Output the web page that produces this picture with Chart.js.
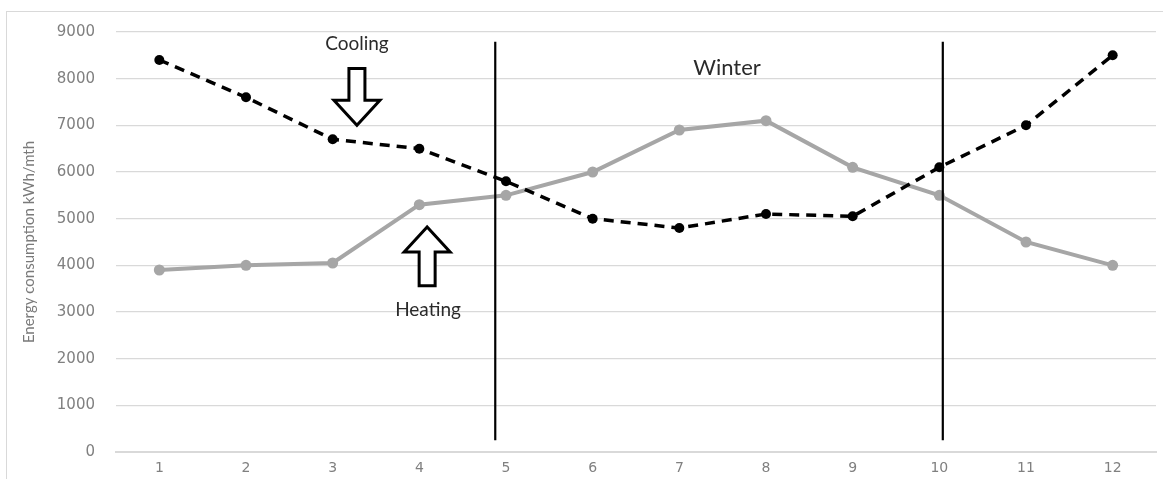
<!DOCTYPE html>
<html>
<head>
<meta charset="utf-8">
<script src="https://cdn.jsdelivr.net/npm/chart.js@4"></script>
<style>
html,body{margin:0;padding:0;background:#fff;}
#wrap{width:1163px;height:479px;position:relative;}
</style>
</head>
<body>
<div id="wrap"><canvas id="c" width="1163" height="479"></canvas></div>
<script>
const months = ['1','2','3','4','5','6','7','8','9','10','11','12'];
const cooling = [8400, 7600, 6700, 6500, 5800, 5000, 4800, 5100, 5050, 6100, 7000, 8500];
const heating = [3900, 4000, 4050, 5300, 5500, 6000, 6900, 7100, 6100, 5500, 4500, 4000];
const yTicks = [0, 1000, 2000, 3000, 4000, 5000, 6000, 7000, 8000, 9000];
const yTitle = 'Energy consumption kWh/mth';
const seasonMarkers = [4.876, 10.04];
const labelCooling = 'Cooling';
const labelHeating = 'Heating';
const labelWinter = 'Winter';

const annot = {
  id: 'annot',
  beforeDraw(chart) {
    const ctx = chart.ctx;
    ctx.save();
    ctx.strokeStyle = '#d9d9d9';
    ctx.lineWidth = 1;
    ctx.strokeRect(6.5, 11.5, 1200, 500);
    ctx.restore();
  },
  afterDatasetsDraw(chart) {
    const ctx = chart.ctx;
    const xs = chart.scales.x, ys = chart.scales.y;
    const px = v => xs.getPixelForValue(v - 1);
    const py = v => ys.getPixelForValue(v);
    ctx.save();
    ctx.strokeStyle = '#000';
    ctx.lineWidth = 2.2;
    seasonMarkers.forEach(m => {
      ctx.beginPath();
      ctx.moveTo(px(m), py(8790));
      ctx.lineTo(px(m), py(250));
      ctx.stroke();
    });
    function arrow(cx, yTail, yTip) {
      const dir = yTip > yTail ? 1 : -1;
      const shaftHalf = 8, headHalf = 23, headLen = 25;
      const yHeadBase = yTip - dir * headLen;
      ctx.beginPath();
      ctx.moveTo(cx - shaftHalf, yTail);
      ctx.lineTo(cx + shaftHalf, yTail);
      ctx.lineTo(cx + shaftHalf, yHeadBase);
      ctx.lineTo(cx + headHalf, yHeadBase);
      ctx.lineTo(cx, yTip);
      ctx.lineTo(cx - headHalf, yHeadBase);
      ctx.lineTo(cx - shaftHalf, yHeadBase);
      ctx.closePath();
      ctx.fillStyle = '#fff';
      ctx.fill();
      ctx.lineWidth = 3;
      ctx.strokeStyle = '#000';
      ctx.stroke();
    }
    arrow(px(3.28), py(8220), py(7000));
    arrow(px(4.09), py(3560), py(4820));
    ctx.fillStyle = '#2b2b2b';
    ctx.textAlign = 'center';
    ctx.textBaseline = 'middle';
    ctx.font = '19px Lato, "Open Sans", sans-serif';
    ctx.fillText(labelCooling, px(3.28), py(8743));
    ctx.fillText(labelHeating, px(4.1), py(3043));
    ctx.font = '22px Lato, "Open Sans", sans-serif';
    ctx.fillText(labelWinter, px(7.55), py(8228));
    ctx.restore();
  }
};

new Chart(document.getElementById('c'), {
  type: 'line',
  data: {
    labels: months,
    datasets: [
      {
        label: 'Heating',
        data: heating,
        borderColor: '#a6a6a6',
        backgroundColor: '#a6a6a6',
        borderWidth: 4,
        pointRadius: 5.5,
        pointBorderWidth: 0,
        tension: 0,
        order: 2
      },
      {
        label: 'Cooling',
        data: cooling,
        borderColor: '#000',
        backgroundColor: '#000',
        borderWidth: 3.5,
        borderDash: [10, 7],
        pointRadius: 5,
        pointBorderWidth: 0,
        tension: 0,
        order: 1
      }
    ]
  },
  options: {
    responsive: false,
    animation: false,
    devicePixelRatio: 1,
    layout: { padding: { top: 32, right: 7, left: 0, bottom: 0 } },
    plugins: { legend: { display: false }, tooltip: { enabled: false } },
    scales: {
      x: {
        offset: true,
        grid: { display: false, drawTicks: false },
        border: { display: true, color: '#d9d9d9', width: 2 },
        ticks: { color: '#808080', font: { family: '"DejaVu Sans", sans-serif', size: 14 }, padding: 8, maxRotation: 0 },
        afterFit(s) { s.height = 27; }
      },
      y: {
        min: 0, max: 9000,
        afterBuildTicks(s) { s.ticks = yTicks.map(v => ({ value: v })); },
        grid: { color: '#d9d9d9', lineWidth: 1.3, drawTicks: false },
        border: { display: false },
        ticks: { color: '#808080', font: { family: '"DejaVu Sans", sans-serif', size: 15 }, padding: 21, callback: v => String(v) },
        title: { display: true, text: yTitle, color: '#7a7a7a', font: { family: 'Lato, "Open Sans", sans-serif', size: 15 }, padding: { top: 20, bottom: 0 } },
        afterFit(s) { s.width = 116; s.paddingBottom = 0; }
      }
    }
  },
  plugins: [annot]
});
</script>
</body>
</html>
